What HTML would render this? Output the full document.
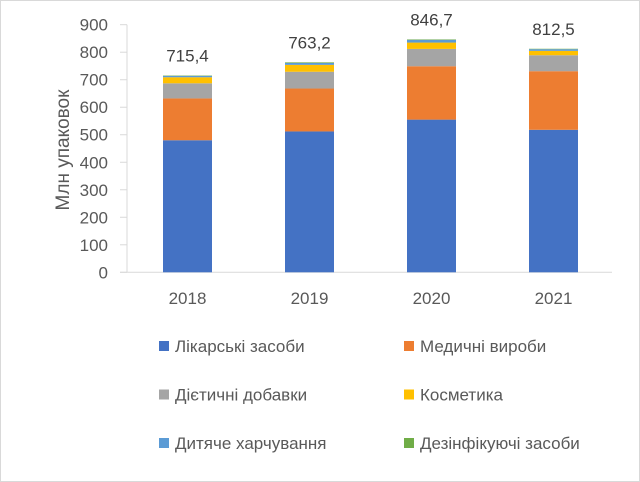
<!DOCTYPE html>
<html><head><meta charset="utf-8"><style>
body{margin:0;background:#fff}
svg{display:block;font-family:"Liberation Sans","DejaVu Sans",sans-serif}
</style></head><body>
<svg id="chart" width="640" height="482" viewBox="0 0 640 482">
<rect x="0.5" y="0.5" width="639" height="481" fill="#fff" stroke="#d9d9d9"/>
<g id="axes"></g><g id="bars"></g><g id="legend"></g>
<text transform="translate(69,150) rotate(-90)" text-anchor="middle" font-size="19" fill="#595959">Млн упаковок</text>
</svg>
<script>
const categories=["2018","2019","2020","2021"];
const seriesNames=["Лікарські засоби","Медичні вироби","Дієтичні добавки","Косметика","Дитяче харчування","Дезінфікуючі засоби"];
const s0=[480,512,555,518];
const s1=[152,156,194,213];
const s2=[55,61,63,58];
const s3=[22,25,23,16];
const s4=[5,7,10,6];
const s5=[1.4,2.2,1.7,1.5];
const totalLabels=["715,4","763,2","846,7","812,5"];
const yTicks=[0,100,200,300,400,500,600,700,800,900];
const colors=["#4472c4","#ed7d31","#a5a5a5","#ffc000","#5b9bd5","#70ad47"];
const series=[s0,s1,s2,s3,s4,s5];
const NS="http://www.w3.org/2000/svg";
const y0=272.3,y1=24.7,ymax=900;
function yS(v){return y0-(v/ymax)*(y0-y1);}
function xC(i){return 187.5+i*122;}
const bw=49;
function mk(tag,attrs,parent){const e=document.createElementNS(NS,tag);for(const k in attrs)e.setAttribute(k,attrs[k]);parent.appendChild(e);return e;}
const axes=document.getElementById('axes'),bars=document.getElementById('bars'),leg=document.getElementById('legend');
let l=mk('line',{x1:127,x2:127,y1:y1,y2:y0,stroke:'#d9d9d9'},axes);


l=mk('line',{x1:120,x2:612,y1:y0,y2:y0,stroke:'#d9d9d9'},axes);


yTicks.forEach(v=>{
 const t=mk('line',{x1:120,x2:127,y1:yS(v),y2:yS(v),stroke:'#d9d9d9'},axes);
 
 
 const tx=mk('text',{x:108,y:yS(v)+6,'text-anchor':'end','font-size':17,fill:'#595959'},axes);
 tx.textContent=v;
 
 
});
categories.forEach((c,i)=>{
 let acc=0;
 series.forEach((s,j)=>{
  const r=mk('rect',{x:xC(i)-bw/2,y:yS(acc+s[i]),width:bw,height:yS(acc)-yS(acc+s[i]),fill:colors[j]},bars);
  
  
  acc+=s[i];
 });
 const tl=mk('text',{x:xC(i),y:yS(acc)-14,'text-anchor':'middle','font-size':17,fill:'#404040'},bars);
 tl.textContent=totalLabels[i];
 
 
 const xl=mk('text',{x:xC(i),y:304,'text-anchor':'middle','font-size':17,fill:'#595959'},bars);
 xl.textContent=c;
 
 
});
seriesNames.forEach((n,j)=>{
 const col=j%2,row=Math.floor(j/2);
 const mx=col?404:159,cy=346+row*48.5;
 const g=mk('g',{},leg);
 
 
 mk('rect',{x:mx,y:cy-5,width:10,height:10,fill:colors[j]},g);
 const t=mk('text',{x:mx+16,y:cy+6,'font-size':17,fill:'#595959'},g);
 t.textContent=n;
});
</script>
</body></html>
